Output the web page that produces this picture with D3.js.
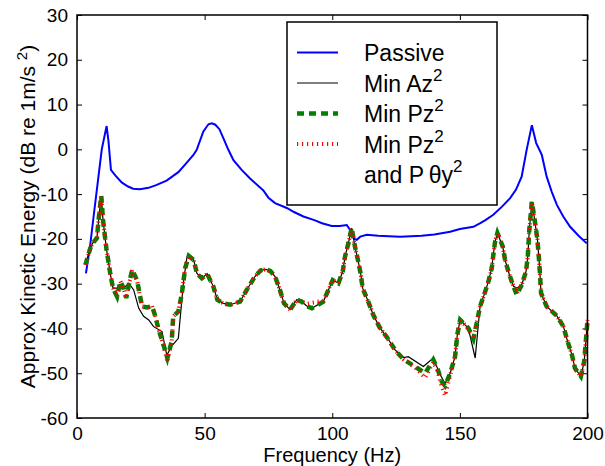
<!DOCTYPE html>
<html>
<head>
<meta charset="utf-8">
<script src="https://cdn.jsdelivr.net/npm/d3@7"></script>
<style>
  body { margin: 0; background: #fff; }
  svg { font-family: "Liberation Sans", Arial, sans-serif; }
</style>
</head>
<body>
<div id="chart"></div>
<script>
// Tick values
const xTicks = [0, 50, 100, 150, 200];
const yTicks = [-60, -50, -40, -30, -20, -10, 0, 10, 20, 30];

// Passive response [Hz, dB]
const passive = [
  [3.5, -27.7], [5.1, -21.7], [6.5, -15], [8, -8], [9.7, 0], [11.6, 5.2], [12.3, 2],
  [13.3, -4.6], [15, -5.8], [17.5, -7.4], [20, -8.3], [22, -8.8], [24.7, -8.9],
  [28, -8.6], [31, -8], [35.1, -7], [39.7, -5.1], [42.5, -3.3], [45.6, -1.25],
  [46.9, -0.1], [49.5, 4], [51.5, 5.6], [52.8, 5.8], [54.2, 5.5], [55.8, 4.5],
  [57.5, 2.3], [59.3, -0.1], [61.3, -2.4], [64.5, -4.6], [67.8, -6.5], [71.7, -8.5],
  [73, -9.2], [75, -10.8], [77.6, -12], [82.2, -13.1], [85, -14], [88.7, -15],
  [93, -15.8], [96, -16.5], [99.8, -17.1], [103, -17.1], [105.7, -16.9], [107, -18],
  [108.5, -20], [109.6, -20.2], [111, -19.5], [113.5, -19.1], [118, -19.3],
  [126.6, -19.5], [135, -19.3], [140, -19], [146.2, -18.4], [150, -17.8],
  [155.3, -17.3], [158, -16.5], [160, -15.8], [163.1, -14.6], [166.5, -12.8],
  [169.7, -10.9], [172, -9], [174.2, -6.1], [176.2, 0], [178.2, 5.4], [179.9, 1.4],
  [182.1, -1.25], [184, -6.1], [186, -9.5], [188, -12.4], [190.5, -15], [193.2, -17.3],
  [196.5, -19.3], [199.7, -21]
];

// Min Az^2
const minAz = [
  [3.3, -25.8], [5.2, -22.1], [6.1, -21], [7.8, -19.8], [8.6, -15], [9.5, -10.6],
  [10.2, -15.8], [11.5, -22.1], [12.4, -25.4], [13.1, -28], [14.1, -31], [15.7, -31],
  [18.3, -31], [20.3, -29.9], [22.2, -31.4], [24.2, -35.5], [26.1, -37.3], [28.1, -38.1],
  [30, -39.6], [33.3, -40.7], [34.6, -44.4], [35.2, -46], [37, -44], [39.7, -42.2],
  [41.8, -29.2], [43.1, -24], [45.7, -24.7], [47, -27.7], [48.9, -28.8], [51, -27.8],
  [53.4, -30.6], [55, -33.6], [57.3, -34.4], [60, -34.7], [63.9, -34], [66.5, -31.4],
  [69.7, -28.4], [72, -27], [74.1, -26.8], [75.8, -27.2], [77.6, -28.4], [79.5, -31.4],
  [81.1, -34.4], [83.5, -35.8], [86.1, -33.6], [88, -34], [90, -35], [92, -35.5],
  [96.5, -34], [98.5, -31.4], [100.2, -29.2], [102.4, -29.9], [104.1, -27.3], [105, -24],
  [106.3, -21], [107.6, -17.6], [108.9, -21.7], [110.2, -25.1], [111.2, -28], [111.9, -31],
  [114.1, -34], [116.1, -37], [118.5, -39.7], [121.7, -42.2], [124.6, -44.8],
  [127.9, -46.5], [129.8, -46.3], [135.7, -48.5], [139.6, -46.6], [142, -50],
  [144.2, -52.3], [146.2, -50], [148.1, -46.3], [149, -41.4], [150.1, -38.1], [152, -39.2],
  [153.3, -39.9], [156, -46.6], [157.9, -35.1], [159.5, -32.5], [161.2, -29.5],
  [162.5, -26.5], [163.1, -23.6], [163.8, -20.6], [164.7, -18.7], [166.8, -21.7],
  [167.7, -24.7], [169.4, -28], [171, -30.6], [172.3, -31], [174.2, -30.3], [175.9, -27.3],
  [176.6, -24], [177.2, -18], [177.8, -14.3], [178.2, -11.7], [179.1, -15], [180.4, -20.2],
  [181.2, -26.1], [181.8, -32.1], [184, -35.1], [188, -37.2], [190.6, -39.6],
  [192.2, -42.9], [193.9, -45.9], [195.1, -48.9], [197.4, -50.7], [198.7, -47.4],
  [199.5, -41.8], [200, -38.1]
];

// Min Pz^2
const minPz = [
  [3.3, -25.8], [5.2, -22.1], [6.1, -21], [7.8, -19.8], [8.6, -15], [9.5, -10.4],
  [10.2, -15.8], [11.5, -22.1], [12.4, -25.4], [13.1, -28], [14.1, -31], [15.7, -32.9],
  [17, -29.5], [18.2, -31], [19.3, -33.2], [20.3, -30.3], [21.6, -26.9], [23.5, -29.2],
  [24.6, -32.5], [25.5, -35.1], [27.5, -35.3], [29.4, -35], [30.7, -37.3], [32, -40.3],
  [33.7, -43.3], [35.4, -46.6], [37.1, -42.9], [37.7, -37.3], [39.7, -36.2], [41, -32.5],
  [42.4, -26.5], [43.8, -23.8], [45.7, -24.7], [47, -27.7], [48.9, -28.8], [51, -27.8],
  [53.4, -30.6], [55, -33.6], [57.3, -34.4], [60, -34.7], [63.9, -34], [66.5, -31.4],
  [69.7, -28.4], [72, -27], [74.1, -26.8], [75.8, -27.2], [77.6, -28.4], [79.5, -31.4],
  [81.1, -34.4], [83.5, -35.8], [86.1, -33.6], [88, -34], [90, -35], [92, -35.5],
  [96.5, -34], [98.5, -31.4], [100.2, -29.2], [102.4, -29.9], [104.1, -27.3], [105, -24],
  [106.3, -21], [107.6, -17.6], [108.9, -21.7], [110.2, -25.1], [111.2, -28], [111.9, -31],
  [114.1, -34], [116.1, -37], [118.5, -39.7], [121.7, -42.2], [124.6, -44.8],
  [127.9, -46.9], [132.4, -48.5], [136.4, -50], [139.6, -47], [141.2, -48.9],
  [142.9, -51.9], [144.2, -52.8], [146.2, -50], [148.1, -46.3], [149, -41.4],
  [150.1, -38.1], [152, -39.2], [153.3, -39.9], [155.3, -42.3], [156.6, -38.8],
  [157.9, -35.1], [159.5, -32.5], [161.2, -29.5], [162.5, -26.5], [163.1, -23.6],
  [163.8, -20.6], [164.7, -18.7], [166.8, -21.7], [167.7, -24.7], [169.4, -28],
  [171, -30.6], [172.3, -32.5], [174.2, -30.3], [175.9, -27.3], [176.6, -24], [177.2, -18],
  [177.8, -14.3], [178.2, -11.7], [179.1, -15], [180.4, -20.2], [181.2, -26.1],
  [181.8, -32.1], [184, -35.1], [188, -37.2], [190.6, -39.6], [192.2, -42.9],
  [193.9, -45.9], [195.1, -48.9], [197.4, -50.7], [198.7, -47.4], [199.5, -41.8],
  [200, -38.1]
];

// Min Pz^2 and P theta y^2
const minPzPty = [
  [3.3, -25.8], [5.2, -22.1], [6.1, -21], [7.8, -19.8], [8.6, -15], [9.5, -10.4],
  [10.2, -15.8], [11.5, -22.1], [12.4, -25.4], [13.1, -28], [14.1, -31], [15.7, -32.9],
  [17, -29.5], [18.2, -31], [19.3, -33.2], [20.3, -30.3], [21.6, -26.9], [23.5, -29.2],
  [24.6, -32.5], [25.5, -35.1], [27.5, -35.3], [29.4, -35], [30.7, -37.3], [32, -40.3],
  [33.7, -43.3], [35.4, -47.5], [37.1, -42.9], [37.7, -37.3], [39.7, -36.2], [41, -32.5],
  [42.4, -26.5], [43.8, -23.8], [45.7, -24.7], [47, -27.7], [48.9, -28.8], [51, -27.8],
  [53.4, -30.6], [55, -33.6], [57.3, -34.4], [60, -34.7], [63.9, -34], [66.5, -31.4],
  [69.7, -28.4], [72, -27], [74.1, -26.8], [75.8, -27.2], [77.6, -28.4], [79.5, -31.4],
  [81.1, -34.4], [83.5, -35.8], [86.1, -33.6], [88, -34], [90, -34.5], [92, -34.3],
  [96.5, -33.8], [98.5, -31.4], [100.2, -29.2], [102.4, -29.9], [104.1, -27.3], [105, -24],
  [106.3, -21], [107.6, -17.6], [108.9, -21.7], [110.2, -25.1], [111.2, -28], [111.9, -31],
  [114.1, -34], [116.1, -37], [118.5, -39.7], [121.7, -42.2], [124.6, -44.8],
  [127.9, -46.9], [132.4, -48.7], [136.4, -51], [139.6, -47.5], [141.2, -49.5],
  [142.9, -53], [144.2, -55], [146.2, -50.5], [148.1, -46.3], [149, -41.4],
  [150.1, -38.1], [152, -39.2], [153.3, -40.2], [155.3, -42.3], [156.6, -38.8],
  [157.9, -35.1], [159.5, -32.5], [161.2, -29.5], [162.5, -26.5], [163.1, -23.6],
  [163.8, -20.6], [164.7, -18.7], [166.8, -21.7], [167.7, -24.7], [169.4, -28],
  [171, -30.6], [172.3, -32], [174.2, -30.3], [175.9, -27.3], [176.6, -24], [177.2, -18],
  [177.8, -14.3], [178.2, -11.7], [179.1, -15], [180.4, -20.2], [181.2, -26.1],
  [181.8, -32.1], [184, -35.1], [188, -37.2], [190.6, -39.6], [192.2, -42.9],
  [193.9, -45.9], [195.1, -48.9], [197.4, -50.7], [198.7, -47.4], [199.5, -41.8],
  [200, -38.1]
];

const W = 605, H = 466;
const margin = { top: 15, right: 17.5, bottom: 48, left: 77 };
const width = W - margin.left - margin.right;
const height = H - margin.top - margin.bottom;

const svg = d3.select("#chart")
  .append("svg")
  .attr("width", W)
  .attr("height", H);

const g = svg.append("g")
  .attr("transform", `translate(${margin.left},${margin.top})`);

const x = d3.scaleLinear().domain([0, 200]).range([0, width]);
const y = d3.scaleLinear().domain([-60, 30]).range([height, 0]);

// Axes with inward ticks on all four sides
function styleAxis(sel, labels) {
  sel.select(".domain").remove();
  sel.selectAll(".tick line").attr("stroke", "#000").attr("stroke-width", 1);
  sel.selectAll(".tick text")
    .attr("fill", "#000")
    .style("font-size", labels ? "19px" : "0px");
}

const fmt = d => String(d); // plain hyphen minus like the original

g.append("g")
  .attr("transform", `translate(0,${height})`)
  .call(d3.axisBottom(x).tickValues(xTicks).tickSize(-5).tickPadding(9).tickFormat(fmt))
  .call(s => styleAxis(s, true));
g.append("g")
  .call(d3.axisTop(x).tickValues(xTicks).tickSize(-5).tickFormat(""))
  .call(s => styleAxis(s, false));
g.append("g")
  .call(d3.axisLeft(y).tickValues(yTicks).tickSize(-5).tickPadding(9).tickFormat(fmt))
  .call(s => styleAxis(s, true));
g.append("g")
  .attr("transform", `translate(${width},0)`)
  .call(d3.axisRight(y).tickValues(yTicks).tickSize(-5).tickFormat(""))
  .call(s => styleAxis(s, false));

const line = d3.line().x(d => x(d[0])).y(d => y(d[1]));

g.append("path").datum(passive)
  .attr("fill", "none").attr("stroke", "#0000ff").attr("stroke-width", 2)
  .attr("d", line);
g.append("path").datum(minAz)
  .attr("fill", "none").attr("stroke", "#000").attr("stroke-width", 1.2)
  .attr("d", line);
g.append("path").datum(minPz)
  .attr("fill", "none").attr("stroke", "#008000").attr("stroke-width", 4.5)
  .attr("stroke-dasharray", "7,5")
  .attr("d", line);
g.append("path").datum(minPzPty)
  .attr("fill", "none").attr("stroke", "#ff0000").attr("stroke-width", 4)
  .attr("stroke-dasharray", "1.2,3.8")
  .attr("d", line);

// Frame
g.append("rect")
  .attr("width", width).attr("height", height)
  .attr("fill", "none").attr("stroke", "#000").attr("stroke-width", 1.5);

// Axis labels
svg.append("text")
  .attr("x", margin.left + width / 2).attr("y", 462)
  .attr("text-anchor", "middle")
  .style("font-size", "20px")
  .text("Frequency (Hz)");

const yl = svg.append("text")
  .attr("transform", `translate(35,${margin.top + height / 2}) rotate(-90)`)
  .attr("text-anchor", "middle")
  .style("font-size", "21px");
yl.append("tspan").text("Approx Kinetic Energy (dB re 1m/s ");
yl.append("tspan").attr("dy", -8).style("font-size", "15px").text("2");
yl.append("tspan").attr("dy", 8).text(")");

// Legend
const lg = svg.append("g");
lg.append("rect")
  .attr("x", 287).attr("y", 22).attr("width", 210).attr("height", 183)
  .attr("fill", "#fff").attr("stroke", "#000").attr("stroke-width", 1.5);

const legendItems = [
  { main: "Passive", sup: "", color: "#0000ff", w: 2, dash: null },
  { main: "Min Az", sup: "2", color: "#000", w: 1.2, dash: null },
  { main: "Min Pz", sup: "2", color: "#008000", w: 4.5, dash: "7,5" },
  { main: "Min Pz", sup: "2", color: "#ff0000", w: 4, dash: "1.2,3.8" }
];

legendItems.forEach((d, i) => {
  const cy = 52.5 + i * 30.5;
  lg.append("line")
    .attr("x1", 297).attr("x2", 338).attr("y1", cy).attr("y2", cy)
    .attr("stroke", d.color).attr("stroke-width", d.w)
    .attr("stroke-dasharray", d.dash);
  const t = lg.append("text")
    .attr("x", 364).attr("y", cy + 8.5)
    .style("font-size", "23px");
  t.append("tspan").text(d.main);
  if (d.sup) t.append("tspan").attr("dy", -11).style("font-size", "17px").text(d.sup);
});

const t5 = lg.append("text")
  .attr("x", 364).attr("y", 183)
  .style("font-size", "23px");
t5.append("tspan").text("and P\u2009\u03b8y");
t5.append("tspan").attr("dy", -11).style("font-size", "17px").text("2");
</script>
</body>
</html>
